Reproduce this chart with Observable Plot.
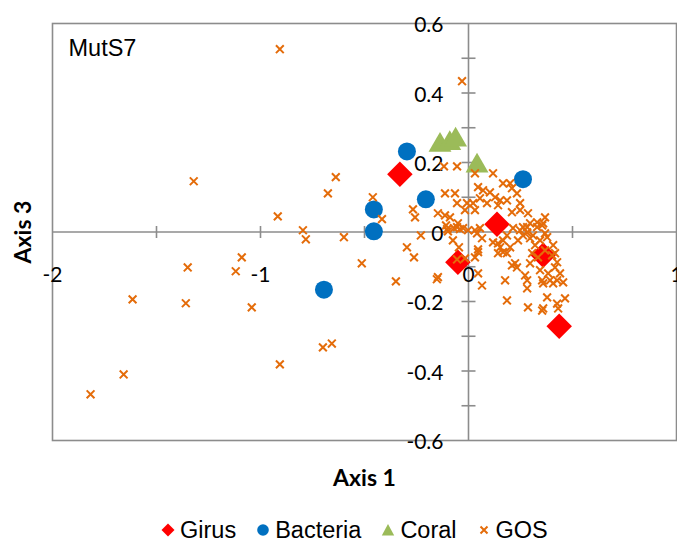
<!DOCTYPE html>
<html><head><meta charset="utf-8">
<script src="https://cdn.jsdelivr.net/npm/d3@7"></script>
<script src="https://cdn.jsdelivr.net/npm/@observablehq/plot@0.6"></script>
<style>
body{margin:0;background:#fff;}
#wrap{position:relative;width:677px;height:542px;overflow:hidden;background:#fff;}
#legend{position:absolute;left:161px;top:520px;height:20px;display:flex;align-items:center;font-family:"Liberation Sans",Arial,sans-serif;font-size:23.5px;line-height:20px;color:#000;white-space:nowrap;}
#legend .item{display:flex;align-items:center;margin-right:20px;}
#legend svg{margin-right:5px;}
</style></head><body><div id="wrap"></div>
<script>
const series = ["Girus", "Bacteria", "Coral", "GOS"];
const colors = ["#FF0000", "#0070C0", "#9BBB59", "#E46C0A"];

const girusX = [-0.330, -0.051, 0.137, 0.359, 0.436];
const girusY = [0.166, -0.087, 0.022, -0.067, -0.271];

const bacteriaX = [-0.296, -0.205, -0.455, -0.455, 0.262, -0.695];
const bacteriaY = [0.232, 0.094, 0.065, 0.002, 0.152, -0.166];

const coralX = [-0.137, -0.090, -0.062, 0.041];
const coralY = [0.250, 0.255, 0.265, 0.190];

const gosX = [-0.907, -0.031, -1.321, -0.917, -0.796, -0.782, -0.676, -0.638, -1.090, -1.119,
  -1.350, -1.615, -1.359, -1.042, -0.907, -0.700, -0.657, -1.658, -1.817, -0.460,
  -0.416, -0.599, -0.513, -0.296, -0.262, -0.229, -0.267, -0.257, -0.349, -0.147,
  -0.152, -0.113, -0.065, -0.118, -0.055, -0.147, -0.113, -0.108, -0.099, -0.075,
  -0.055, -0.055, -0.055, -0.103, -0.070, -0.041, -0.046, 0.031, 0.118, 0.166,
  0.200, 0.046, 0.070, 0.103, 0.128, 0.152, 0.055, 0.022, 0.089, 0.142,
  0.185, 0.233, 0.209, 0.248, 0.209, 0.248, 0.286, 0.330, 0.368, 0.354,
  0.296, 0.262, -0.007, -0.017, 0.031, -0.089, -0.051, -0.026, 0.055, 0.031,
  0.065, 0.282, 0.310, 0.344, 0.378, 0.407, 0.238, 0.200, 0.166, 0.142,
  -0.002, 0.041, 0.118, 0.152, 0.166, 0.185, 0.142, 0.046, 0.031, -0.017,
  0.224, 0.209, 0.233, 0.296, 0.272, 0.282, 0.282, 0.176, 0.065, 0.046,
  0.185, 0.286, 0.354, 0.359, 0.378, 0.359, 0.426, 0.431, 0.464, 0.392,
  0.426, 0.455, 0.407, 0.344, 0.383, 0.416, 0.440, 0.306, 0.334, 0.368,
  0.402, 0.426, 0.416, 0.320, 0.296, 0.262, 0.248, 0.282, 0.330, 0.359,
  0.368, 0.214, 0.185, 0.354, 0.046];
const gosY = [0.526, 0.434, 0.146, 0.045, 0.005, -0.021, 0.111, 0.158, -0.073, -0.113,
  -0.102, -0.194, -0.205, -0.217, -0.381, -0.332, -0.321, -0.410, -0.467, 0.100,
  0.037, -0.015, -0.090, -0.044, -0.073, -0.010, 0.065, 0.042, -0.142, -0.130,
  -0.136, 0.111, 0.111, 0.189, 0.189, 0.054, 0.048, 0.019, 0.002, -0.024,
  0.083, 0.014, -0.079, 0.008, 0.011, 0.008, -0.044, 0.169, 0.169, 0.140,
  0.140, 0.129, 0.120, 0.114, 0.100, 0.091, 0.097, 0.083, 0.083, 0.077,
  0.091, 0.111, 0.126, 0.083, 0.057, 0.063, 0.054, 0.028, 0.042, 0.019,
  0.025, 0.014, 0.083, 0.063, 0.063, 0.042, 0.025, 0.011, 0.011, 0.005,
  -0.018, -0.001, -0.010, -0.024, -0.015, -0.038, -0.024, -0.044, -0.024, -0.033,
  0.005, -0.004, -0.030, -0.044, -0.058, -0.061, -0.061, -0.058, -0.073, -0.076,
  -0.090, -0.096, -0.102, -0.090, -0.125, -0.139, -0.162, -0.139, -0.154, -0.119,
  -0.197, -0.217, -0.139, -0.148, -0.188, -0.220, -0.206, -0.220, -0.191, -0.139,
  -0.139, -0.145, -0.148, -0.110, -0.119, -0.102, -0.119, -0.061, -0.073, -0.053,
  -0.067, -0.087, -0.061, -0.038, -0.018, -0.010, 0.005, 0.014, 0.014, 0.025,
  -0.004, 0.011, -0.010, -0.226, -0.050];

const xTicks = [-1.5, -1, -0.5, 0.5];
const yTicks = [-0.5, -0.4, -0.3, -0.2, -0.1, 0.1, 0.2, 0.3, 0.4, 0.5];
const xTickLabels = [-2, -1, 0, 1];
const yTickLabels = [-0.6, -0.4, -0.2, 0, 0.2, 0.4, 0.6];
const xTitle = "Axis 1";
const yTitle = "Axis 3";
const panelLabel = "MutS7";

const pts = (xs, ys) => xs.map((x, i) => ({x, y: ys[i]}));
const girus = pts(girusX, girusY);
const bacteria = pts(bacteriaX, bacteriaY);
const coral = pts(coralX, coralY);
const gos = pts(gosX, gosY);

const timesSym = {draw(c) { const s = 3.9; c.moveTo(-s, -s); c.lineTo(s, s); c.moveTo(s, -s); c.lineTo(-s, s); }};
const vTick = {draw(c) { c.moveTo(0, -6); c.lineTo(0, 6); }};
const hTick = {draw(c) { c.moveTo(-7, 0); c.lineTo(7, 0); }};
const axisColor = "#8c8c8c";
const tickFont = "Lato, 'Open Sans', sans-serif";

const plot = Plot.plot({
  width: 677, height: 505,
  marginLeft: 52, marginRight: 1, marginTop: 23, marginBottom: 65,
  x: {domain: [-2, 1], axis: null},
  y: {domain: [-0.6, 0.6], axis: null},
  style: {background: "white", overflow: "visible"},
  marks: [
    Plot.frame({stroke: axisColor, strokeWidth: 1.6}),
    Plot.ruleX([0], {stroke: axisColor, strokeWidth: 1.6}),
    Plot.ruleY([0], {stroke: axisColor, strokeWidth: 1.6}),
    Plot.dot(xTicks, {x: d => d, y: () => 0, symbol: vTick, stroke: axisColor, strokeWidth: 1.6, fill: "none"}),
    Plot.dot(yTicks, {x: () => 0, y: d => d, symbol: hTick, stroke: axisColor, strokeWidth: 1.6, fill: "none"}),
    Plot.text(xTickLabels, {x: d => d, y: () => 0, text: d => String(d), dy: 43, fontSize: 21, fontFamily: tickFont, fill: "#000"}),
    Plot.text(yTickLabels, {x: () => 0, y: d => d, text: d => String(d), dx: -25, dy: 2, textAnchor: "end", fontSize: 21, fontFamily: tickFont, fill: "#000"}),
    Plot.dot(girus, {x: "x", y: "y", symbol: "diamond2", r: 11.5, fill: colors[0], stroke: "none"}),
    Plot.dot(bacteria, {x: "x", y: "y", symbol: "circle", r: 9, fill: colors[1], stroke: "none"}),
    Plot.dot(coral, {x: "x", y: "y", symbol: "triangle", r: 8.5, fill: colors[2], stroke: "none"}),
    Plot.dot(gos, {x: "x", y: "y", symbol: timesSym, stroke: colors[3], strokeWidth: 2, fill: "none"}),
    Plot.text([panelLabel], {frameAnchor: "top-left", dx: 16, dy: 25, textAnchor: "start", lineAnchor: "middle", fontSize: 23.5, fontFamily: "'Liberation Sans', Arial, sans-serif", fill: "#000"}),
    Plot.text([xTitle], {frameAnchor: "bottom", dy: 38, lineAnchor: "middle", textAnchor: "middle", fontSize: 23, fontWeight: "bold", fontFamily: tickFont, fill: "#000"}),
    Plot.text([yTitle], {frameAnchor: "left", dx: -29, rotate: -90, textAnchor: "middle", lineAnchor: "middle", fontSize: 23, fontWeight: "bold", fontFamily: tickFont, fill: "#000"})
  ]
});

const wrap = document.getElementById("wrap");
wrap.appendChild(plot);

// legend
const legend = document.createElement("div");
legend.id = "legend";
const symSvg = [
  '<svg width="14" height="14" viewBox="-7 -7 14 14"><path d="M0,-6.5L6.5,0L0,6.5L-6.5,0Z" fill="' + colors[0] + '"/></svg>',
  '<svg width="14" height="14" viewBox="-7 -7 14 14"><circle r="5.8" fill="' + colors[1] + '"/></svg>',
  '<svg width="14" height="14" viewBox="-7 -7 14 14"><path d="M0,-6L6.2,5.5L-6.2,5.5Z" fill="' + colors[2] + '"/></svg>',
  '<svg width="14" height="14" viewBox="-7 -7 14 14"><path d="M-3.5,-3.5L3.5,3.5M3.5,-3.5L-3.5,3.5" stroke="' + colors[3] + '" stroke-width="2"/></svg>'
];
series.forEach((s, i) => {
  const it = document.createElement("div");
  it.className = "item";
  it.innerHTML = symSvg[i] + "<span>" + s + "</span>";
  legend.appendChild(it);
});
wrap.appendChild(legend);
</script>
</body></html>
